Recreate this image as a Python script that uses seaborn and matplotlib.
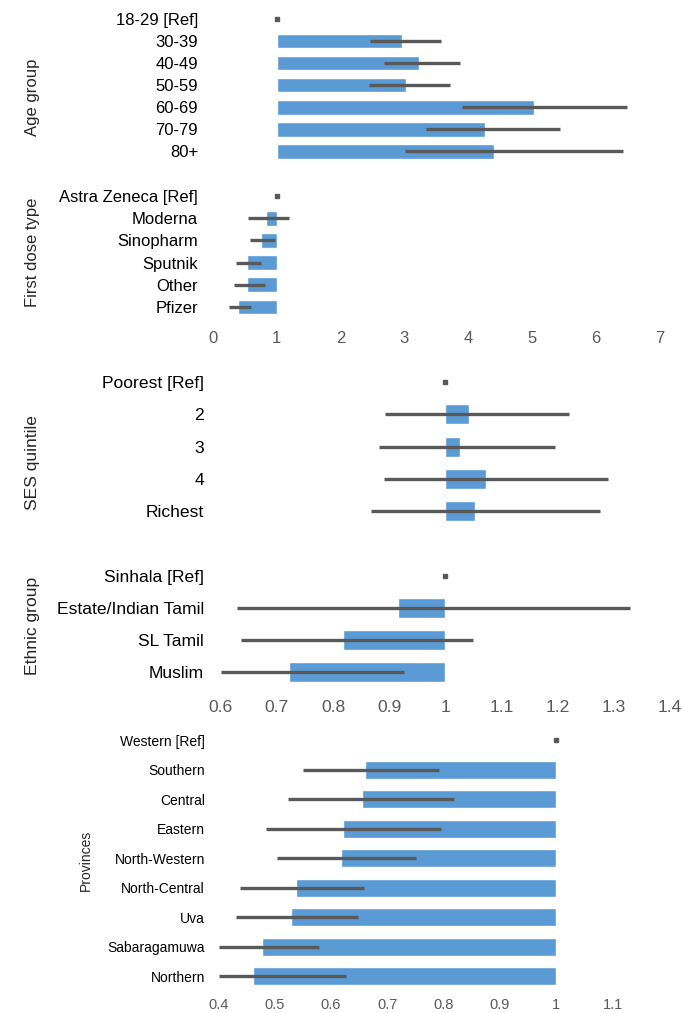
import numpy as np
import pandas as pd
import matplotlib
matplotlib.use("Agg")
import matplotlib.pyplot as plt
import seaborn as sns

# odds ratios + 95% CI
age_groups = ["18-29 [Ref]", "30-39", "40-49", "50-59", "60-69", "70-79", "80+"]
age_or = [1, 2.97, 3.24, 3.03, 5.04, 4.26, 4.41]
age_lo = [1, 2.46, 2.69, 2.45, 3.90, 3.34, 3.01]
age_hi = [1, 3.58, 3.88, 3.72, 6.50, 5.44, 6.43]

dose_types = ["Astra Zeneca [Ref]", "Moderna", "Sinopharm", "Sputnik", "Other", "Pfizer"]
dose_or = [1, 0.83, 0.76, 0.53, 0.53, 0.40]
dose_lo = [1, 0.56, 0.58, 0.36, 0.34, 0.25]
dose_hi = [1, 1.20, 0.98, 0.76, 0.82, 0.60]

ses_groups = ["Poorest [Ref]", "2", "3", "4", "Richest"]
ses_or = [1, 1.043, 1.026, 1.072, 1.053]
ses_lo = [1, 0.893, 0.881, 0.891, 0.868]
ses_hi = [1, 1.221, 1.196, 1.289, 1.275]

eth_groups = ["Sinhala [Ref]", "Estate/Indian Tamil", "SL Tamil", "Muslim"]
eth_or = [1, 0.916, 0.818, 0.721]
eth_lo = [1, 0.629, 0.636, 0.601]
eth_hi = [1, 1.329, 1.049, 0.927]

provinces = ["Western [Ref]", "Southern", "Central", "Eastern", "North-Western",
             "North-Central", "Uva", "Sabaragamuwa", "Northern"]
prov_or = [1, 0.661, 0.655, 0.622, 0.617, 0.538, 0.529, 0.477, 0.462]
prov_lo = [1, 0.551, 0.524, 0.485, 0.505, 0.438, 0.431, 0.401, 0.401]
prov_hi = [1, 0.791, 0.818, 0.796, 0.751, 0.659, 0.648, 0.579, 0.626]

BLUE = "#5B9BD5"
GREY = "#595959"

sns.set_style("white")
plt.rcParams["font.family"] = ["Liberation Sans", "DejaVu Sans"]

W, H = 682, 1013
fig = plt.figure(figsize=(W / 100, H / 100), dpi=100)


def px_axes(left, top, right, bottom):
    return fig.add_axes([left / W, 1 - bottom / H, (right - left) / W, (bottom - top) / H])


def draw(ax, cats, or_, lo, hi, bar_h, fs, ypad):
    df = pd.DataFrame({"cat": cats, "diff": np.array(or_) - 1})
    # bars start at OR = 1
    sns.barplot(data=df, x="diff", y="cat", left=1, color=BLUE, saturation=1,
                width=bar_h, errorbar=None, ax=ax, zorder=2)
    ax.hlines(np.arange(len(cats)), lo, hi, color=GREY, lw=2.4, zorder=3,
              capstyle="butt")
    ax.plot([or_[0]], [0], marker="s", ms=2.4, color=GREY, ls="none", zorder=3)
    ax.set_ylim(len(cats) - 0.5, -0.5)
    ax.set_xlabel("")
    ax.set_ylabel("")
    sns.despine(ax=ax, left=True, bottom=True)
    ax.tick_params(axis="y", length=0, pad=ypad, labelsize=fs, labelcolor="black")


def xaxis(ax, ticks, fs, pad, show=True):
    ax.set_xlim(ticks[0], ticks[-1])
    ax.set_xticks(ticks)
    ax.set_xticklabels([f"{t:g}" for t in ticks])
    ax.tick_params(axis="x", length=0, pad=pad, labelsize=fs, labelcolor=GREY,
                   labelbottom=show)


ax_age = px_axes(212.7, 8.1, 659.4, 162.5)
ax_dose = px_axes(212.7, 184.9, 659.4, 318.1)
ax_ses = px_axes(220.7, 366.2, 670.0, 527.1)
ax_eth = px_axes(220.7, 559.7, 670.0, 687.8)
ax_prov = px_axes(218.3, 725.5, 612.7, 991.1)

draw(ax_age, age_groups, age_or, age_lo, age_hi, 0.65, 12, 10.5)
draw(ax_dose, dose_types, dose_or, dose_lo, dose_hi, 0.66, 12, 10.5)
draw(ax_ses, ses_groups, ses_or, ses_lo, ses_hi, 0.62, 12.6, 12)
draw(ax_eth, eth_groups, eth_or, eth_lo, eth_hi, 0.63, 12.6, 12)
draw(ax_prov, provinces, prov_or, prov_lo, prov_hi, 0.61, 10, 9.5)

top_ticks = np.arange(0, 8)
mid_ticks = np.round(np.arange(0.6, 1.41, 0.1), 1)
bot_ticks = np.round(np.arange(0.4, 1.11, 0.1), 1)
xaxis(ax_age, top_ticks, 12, 9, show=False)
xaxis(ax_dose, top_ticks, 12, 9)
xaxis(ax_ses, mid_ticks, 12.6, 9, show=False)
xaxis(ax_eth, mid_ticks, 12.6, 9)
xaxis(ax_prov, bot_ticks, 10.5, 5)

# group titles
for label, x, y, fs in [("Age group", 32.6, 97, 12),
                        ("First dose type", 32.6, 252, 12),
                        ("SES quintile", 32.6, 462, 12.6),
                        ("Ethnic group", 32.6, 626, 12.6),
                        ("Provinces", 86, 860, 10)]:
    fig.text(x / W, 1 - y / H, label, rotation=90, ha="center", va="center", fontsize=fs)

fig.savefig("out.png", dpi=100)
